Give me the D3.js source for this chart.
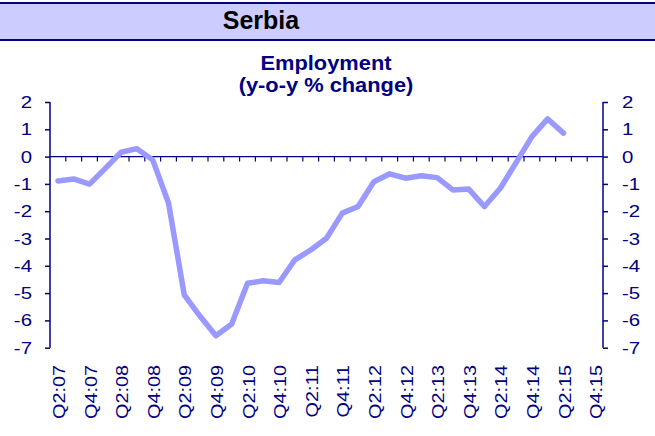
<!DOCTYPE html>
<html>
<head>
<meta charset="utf-8">
<script src="https://cdn.jsdelivr.net/npm/d3@7"></script>
<style>
  body { margin: 0; background: #fff; }
  svg { display: block; font-family: Arial, "Liberation Sans", sans-serif; }
</style>
</head>
<body>
<svg id="chart" width="655" height="436"></svg>
<script>
// 季度分类（Q2:07 - Q4:15）
const quarters = [
  "Q2:07","Q3:07","Q4:07",
  "Q1:08","Q2:08","Q3:08","Q4:08",
  "Q1:09","Q2:09","Q3:09","Q4:09",
  "Q1:10","Q2:10","Q3:10","Q4:10",
  "Q1:11","Q2:11","Q3:11","Q4:11",
  "Q1:12","Q2:12","Q3:12","Q4:12",
  "Q1:13","Q2:13","Q3:13","Q4:13",
  "Q1:14","Q2:14","Q3:14","Q4:14",
  "Q1:15","Q2:15","Q3:15","Q4:15"
];

// 就业同比变化 (%)
const employment = [
  -0.89, -0.82, -1.01,
  -0.43, 0.16, 0.29, -0.12,
  -1.7, -5.07, -5.85, -6.56,
  -6.13, -4.64, -4.55, -4.61,
  -3.78, -3.42, -2.99, -2.07,
  -1.83, -0.92, -0.63, -0.79,
  -0.7, -0.77, -1.22, -1.19,
  -1.83, -1.16, -0.22, 0.73,
  1.38, 0.86
];

// 坐标轴刻度
const yTicks = [2, 1, 0, -1, -2, -3, -4, -5, -6, -7];
const xLabels = quarters.filter((q, i) => i % 2 === 0);

const navy = "#000080";
const svg = d3.select("#chart");

// 顶部标题栏
svg.append("rect")
  .attr("x", 0).attr("y", 3)
  .attr("width", 655).attr("height", 37)
  .attr("fill", "#ccccff");
svg.append("line")
  .attr("x1", 0).attr("x2", 655).attr("y1", 3).attr("y2", 3)
  .attr("stroke", navy).attr("stroke-width", 2);
svg.append("line")
  .attr("x1", 0).attr("x2", 655).attr("y1", 40).attr("y2", 40)
  .attr("stroke", navy).attr("stroke-width", 2);
svg.append("text")
  .attr("x", 261).attr("y", 28.5)
  .attr("text-anchor", "middle")
  .attr("font-size", "25px")
  .attr("font-weight", "bold")
  .attr("fill", "#000")
  .text("Serbia");

// 图表标题（字体略宽）
[["Employment", 70], ["(y-o-y % change)", 92]].forEach(([t, ty]) => {
  svg.append("text")
    .attr("transform", `translate(326,${ty}) scale(1.12,1)`)
    .attr("text-anchor", "middle")
    .attr("font-size", "19.5px").attr("font-weight", "bold")
    .attr("fill", navy)
    .text(t);
});

// 比例尺
const x = d3.scaleBand().domain(quarters).range([50, 603]).padding(0);
const y = d3.scaleLinear().domain([-7, 2]).range([347.7, 102]);

// 左右轴（只保留刻度线，标签单独画）
const leftAxis = svg.append("g")
  .attr("transform", "translate(50,0)")
  .call(d3.axisLeft(y).tickValues(yTicks).tickSize(5).tickFormat(""));
const rightAxis = svg.append("g")
  .attr("transform", "translate(603,0)")
  .call(d3.axisRight(y).tickValues(yTicks).tickSize(5).tickFormat(""));

[leftAxis, rightAxis].forEach(g => {
  g.select(".domain").remove();
  g.selectAll("line").attr("stroke", navy).attr("stroke-width", 1.5);
});
svg.append("line")
  .attr("x1", 50).attr("x2", 50).attr("y1", y(2)).attr("y2", y(-7))
  .attr("stroke", navy).attr("stroke-width", 1.5);
svg.append("line")
  .attr("x1", 603).attr("x2", 603).attr("y1", y(2)).attr("y2", y(-7))
  .attr("stroke", navy).attr("stroke-width", 1.5);

// Y轴标签
svg.append("g").selectAll("text")
  .data(yTicks)
  .join("text")
  .attr("transform", d => `translate(32,${y(d) + 6}) scale(1.2,1)`)
  .attr("text-anchor", "end")
  .attr("font-size", "17px")
  .attr("fill", navy)
  .text(d => String(d));
svg.append("g").selectAll("text")
  .data(yTicks)
  .join("text")
  .attr("transform", d => `translate(622,${y(d) + 6}) scale(1.2,1)`)
  .attr("text-anchor", "start")
  .attr("font-size", "17px")
  .attr("fill", navy)
  .text(d => String(d));

// 零线及刻度
svg.append("line")
  .attr("x1", 50).attr("x2", 603).attr("y1", y(0)).attr("y2", y(0))
  .attr("stroke", navy).attr("stroke-width", 1.2);
svg.append("g").selectAll("line")
  .data(quarters.slice(0, -1))
  .join("line")
  .attr("x1", d => x(d) + x.bandwidth())
  .attr("x2", d => x(d) + x.bandwidth())
  .attr("y1", y(0)).attr("y2", y(0) + 5)
  .attr("stroke", navy).attr("stroke-width", 1.2);

// X轴标签（竖排）
svg.append("g").selectAll("text")
  .data(xLabels)
  .join("text")
  .attr("transform", d => `translate(${x(d) + x.bandwidth() / 2 + 7},365) rotate(-90) scale(1.2,1)`)
  .attr("text-anchor", "end")
  .attr("font-size", "16.5px")
  .attr("fill", navy)
  .text(d => d);

// 折线
const line = d3.line()
  .x((d, i) => x(quarters[i]) + x.bandwidth() / 2)
  .y(d => y(d));
svg.append("path")
  .datum(employment)
  .attr("d", line)
  .attr("fill", "none")
  .attr("stroke", "#9999ff")
  .attr("stroke-width", 5.5)
  .attr("stroke-linejoin", "round")
  .attr("stroke-linecap", "round");
</script>
</body>
</html>
